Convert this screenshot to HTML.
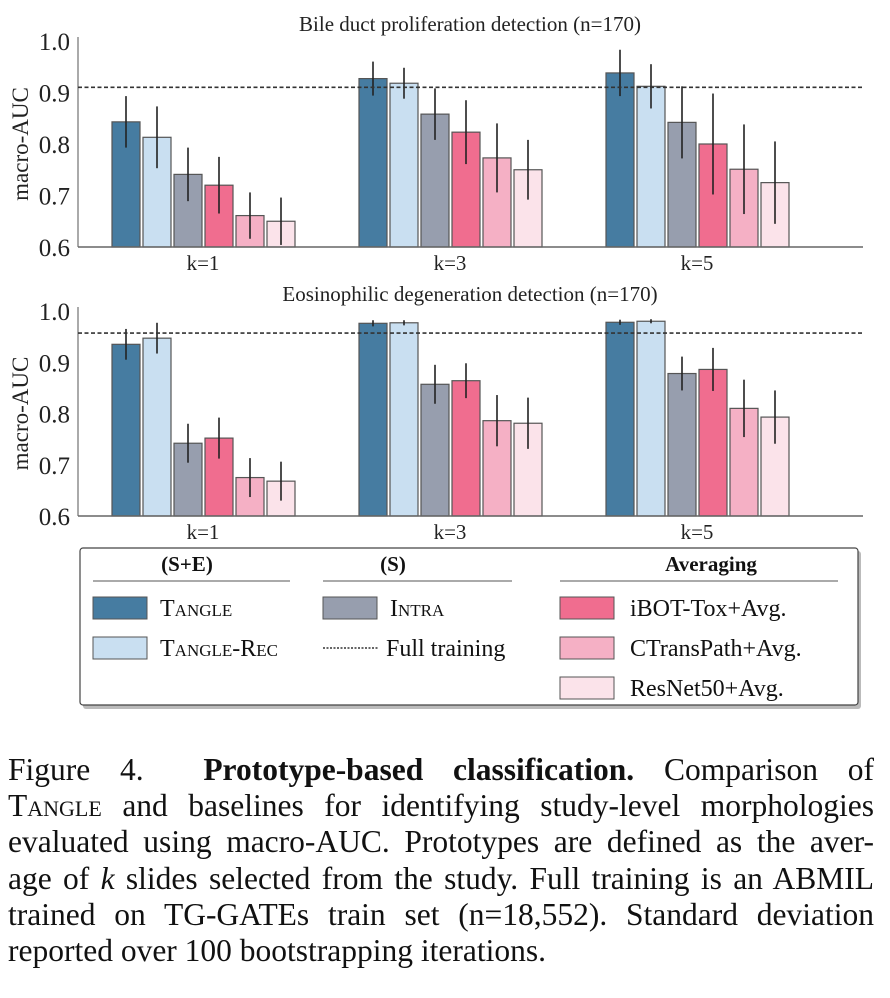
<!DOCTYPE html>
<html><head><meta charset="utf-8"><style>
body{margin:0;background:#fff;width:890px;height:998px;overflow:hidden;font-family:"Liberation Serif",serif}
.cap{position:absolute;left:8px;width:866px;font-size:31.5px;line-height:36.2px;color:#111;top:752px}
.cap div{text-align:justify;text-align-last:justify;white-space:nowrap}
.cap div.last{text-align-last:left}
.sc{font-variant:small-caps}
</style></head><body>
<svg id="chart" width="890" height="740" style="position:absolute;left:0;top:0;font-family:'Liberation Serif',serif"></svg>
<div class="cap">
<div>Figure 4.&nbsp; <b>Prototype-based classification.</b> Comparison of</div>
<div><span class="sc">Tangle</span> and baselines for identifying study-level morphologies</div>
<div>evaluated using macro-AUC. Prototypes are defined as the aver-</div>
<div>age of <i>k</i> slides selected from the study. Full training is an ABMIL</div>
<div>trained on TG-GATEs train set (n=18,552). Standard deviation</div>
<div class="last">reported over 100 bootstrapping iterations.</div>
</div>
<script>
const groups=["k=1","k=3","k=5"];
const series=["Tangle","Tangle-Rec","Intra","iBOT-Tox+Avg.","CTransPath+Avg.","ResNet50+Avg."];
const colors=["#467ca1","#c9dff1","#979eae","#f06d8f","#f5b0c5","#fbe3ea"];
const ticks=[0.6,0.7,0.8,0.9,1.0];
const bileVals=[[0.843,0.813,0.741,0.720,0.661,0.650],[0.927,0.918,0.858,0.823,0.773,0.750],[0.938,0.912,0.842,0.800,0.751,0.725]];
const bileErr=[[0.05,0.06,0.052,0.055,0.045,0.046],[0.033,0.03,0.05,0.062,0.067,0.058],[0.045,0.043,0.07,0.098,0.087,0.08]];
const bileFull=0.910;
const eosVals=[[0.935,0.947,0.742,0.752,0.675,0.668],[0.976,0.977,0.857,0.864,0.786,0.781],[0.978,0.980,0.878,0.886,0.810,0.793]];
const eosErr=[[0.03,0.03,0.038,0.04,0.038,0.038],[0.006,0.005,0.038,0.034,0.05,0.05],[0.005,0.004,0.033,0.042,0.056,0.052]];
const eosFull=0.957;
const svg=document.getElementById('chart');
const NS="http://www.w3.org/2000/svg";
function mk(t,a,p){const e=document.createElementNS(NS,t);for(const k in a)e.setAttribute(k,a[k]);(p||svg).appendChild(e);return e;}
function panel(name,title,vals,errs,full,yTop,yBot){
  const g=mk('g',{});
  
  
  const y=v=>yBot-(v-0.6)/0.4*(yBot-yTop);
  const x0=78,x1=863;
  const gx=i=>112+i*247;
  const t=mk('text',{x:470,y:yTop-10,'text-anchor':'middle','font-size':21,fill:'#222'},g);t.textContent=title;
  
  mk('line',{x1:x0,x2:x0,y1:yTop-4,y2:yBot,stroke:'#555','stroke-width':1},g);
  ticks.forEach(v=>{const tt=mk('text',{x:70,y:y(v)+9,'text-anchor':'end','font-size':25,fill:'#222'},g);tt.textContent=v.toFixed(1);
    });
  const yl=mk('text',{x:0,y:0,'text-anchor':'middle','font-size':23,fill:'#222',transform:`translate(28,${(yTop+yBot)/2}) rotate(-90)`},g);yl.textContent='macro-AUC';
  
  vals.forEach((row,gi)=>{row.forEach((v,si)=>{
    const bx=gx(gi)+si*31;
    const r=mk('rect',{x:bx,y:y(v),width:28,height:yBot-y(v),fill:colors[si],stroke:'#555','stroke-width':1.2},g);
    
    const e=errs[gi][si];
    const l=mk('line',{x1:bx+14,x2:bx+14,y1:y(Math.min(v+e,1.0)),y2:y(v-e),stroke:'#222','stroke-width':1.6},g);
    
  });
  const xl=mk('text',{x:gx(gi)+91,y:yBot+23,'text-anchor':'middle','font-size':21,fill:'#222'},g);xl.textContent=groups[gi];
  });
  const d=mk('line',{x1:x0,x2:x1,y1:y(full),y2:y(full),stroke:'#333','stroke-width':1.6,'stroke-dasharray':'4,2.5'},g);
  
  mk('line',{x1:x0,x2:x1,y1:yBot,y2:yBot,stroke:'#666','stroke-width':1.5},g);
}
panel('bile-duct-panel','Bile duct proliferation detection (n=170)',bileVals,bileErr,bileFull,41,247);
panel('eosinophilic-panel','Eosinophilic degeneration detection (n=170)',eosVals,eosErr,eosFull,311,516);
const lg=mk('g',{});


mk('rect',{x:83,y:551,width:778,height:158,rx:3,fill:'#bbb'},lg);
mk('rect',{x:80,y:548,width:778,height:157,rx:3,fill:'#fff',stroke:'#444','stroke-width':1.2},lg);
const heads=[["(S+E)",187,93,290],["(S)",393,323,512],["Averaging",711,560,838]];
heads.forEach(h=>{const t=mk('text',{x:h[1],y:571,'text-anchor':'middle','font-size':21,'font-weight':'bold',fill:'#111'},lg);t.textContent=h[0];
  
  mk('line',{x1:h[2],x2:h[3],y1:581,y2:581,stroke:'#777','stroke-width':1.2},lg);});
const items=[[0,93,608,'<tspan>T</tspan><tspan font-size="17">ANGLE</tspan>'],[1,93,648,'<tspan>T</tspan><tspan font-size="17">ANGLE</tspan><tspan>-R</tspan><tspan font-size="17">EC</tspan>'],
[2,323,608,'<tspan>I</tspan><tspan font-size="17">NTRA</tspan>'],[3,560,608,'iBOT-Tox+Avg.'],[4,560,648,'CTransPath+Avg.'],[5,560,688,'ResNet50+Avg.']];
items.forEach(it=>{const sw=mk('rect',{x:it[1],y:it[2]-11,width:54,height:22,fill:colors[it[0]],stroke:'#555','stroke-width':1},lg);
  
  const t=mk('text',{x:it[1]+(it[1]===560?70:67),y:it[2]+8,'font-size':24,fill:'#111'},lg);t.innerHTML=it[3];
  });
mk('line',{x1:323,x2:378,y1:648,y2:648,stroke:'#333','stroke-width':1.6,'stroke-dasharray':'2,1.5'},lg);
const ft=mk('text',{x:386,y:656,'font-size':24,fill:'#111'},lg);ft.textContent='Full training';

</script>
</body></html>
